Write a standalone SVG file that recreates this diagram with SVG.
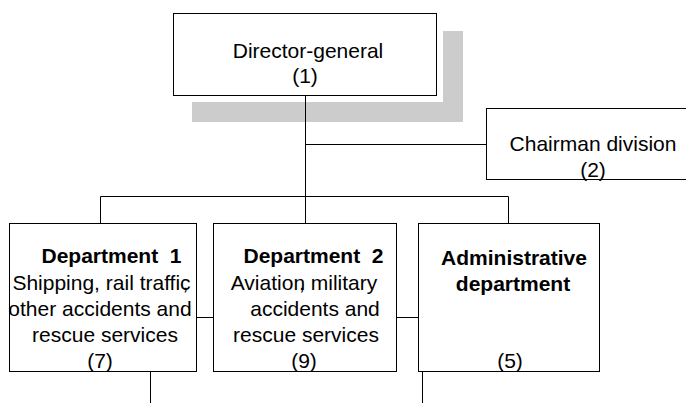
<svg xmlns="http://www.w3.org/2000/svg" width="686" height="403" viewBox="0 0 686 403">
<style>
.box{fill:#fff;stroke:#000;stroke-width:1}
.ln{fill:none;stroke:#000;stroke-width:1}
.t{font-family:"Liberation Sans",Arial,sans-serif;font-size:21px;fill:#000;text-anchor:middle;white-space:pre}
.b{font-weight:bold}
</style>
<rect width="686" height="403" fill="#fff"/>
<g id="connectors">
<path class="ln" d="M305.5,95 V223 M305.5,144.5 H486 M100.5,196.5 H508.5 M100.5,196.5 V223 M508.5,196.5 V223 M196,317.5 H213 M396,317.5 H418 M150.5,371 V403 M422.5,371 V403"/>
</g>
<g id="director">
<path d="M443,31 H463 V122 H192 V102 H443 Z" fill="#cccccc"/>
<rect class="box" x="173.5" y="13.5" width="263" height="82"/>
<path class="ln" d="M305.5,95 V122"/>
<text class="t" x="308" y="58">Director-general</text>
<text class="t" x="305" y="83">(1)</text>
</g>
<g id="chairman">
<rect class="box" x="486.5" y="108.5" width="210" height="71"/>
<text class="t" x="593" y="151">Chairman division</text>
<text class="t" x="593" y="177">(2)</text>
</g>
<g id="dept1">
<rect class="box" x="9.5" y="223.5" width="187" height="148"/>
<text class="t b" x="111.5" y="263">Department  1</text>
<text class="t" x="101.5" y="290">Shipping, rail traffic<tspan dx="-8">,</tspan></text>
<text class="t" x="100" y="316">other accidents and</text>
<text class="t" x="105" y="342">rescue services</text>
<text class="t" x="100" y="368">(7)</text>
</g>
<g id="dept2">
<rect class="box" x="213.5" y="223.5" width="183" height="148"/>
<text class="t b" x="313.5" y="263">Department  2</text>
<text class="t" x="304" y="290">Aviation<tspan dx="-6">,</tspan> military</text>
<text class="t" x="315" y="316">accidents and</text>
<text class="t" x="306" y="342">rescue services</text>
<text class="t" x="304" y="368">(9)</text>
</g>
<g id="admin">
<rect class="box" x="418.5" y="223.5" width="181" height="148"/>
<text class="t b" x="514" y="265">Administrative</text>
<text class="t b" x="513" y="291">department</text>
<text class="t" x="510" y="368">(5)</text>
</g>
</svg>
